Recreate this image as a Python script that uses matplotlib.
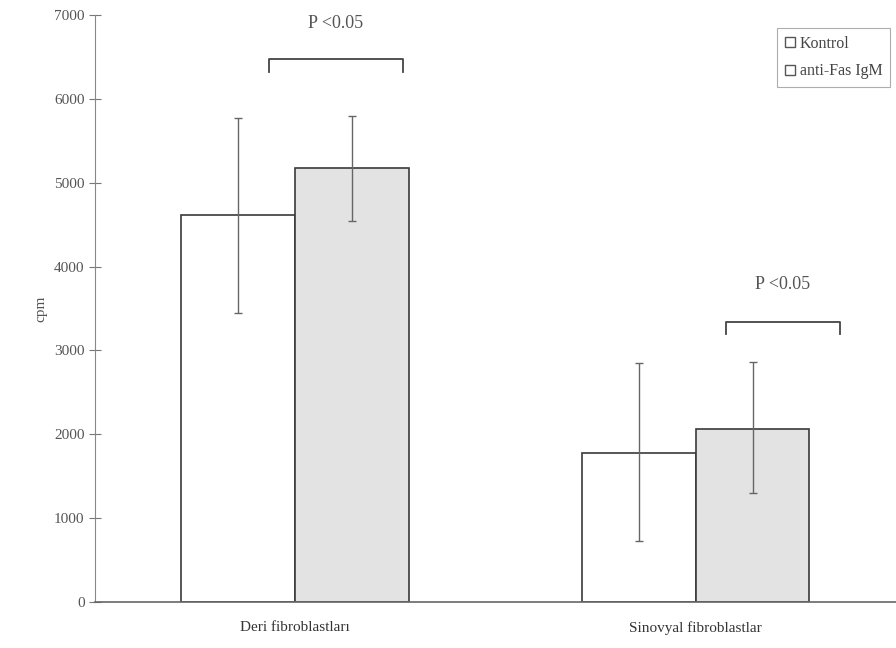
import matplotlib.pyplot as plt
import numpy as np
from matplotlib.lines import Line2D

plt.rcParams['font.family'] = ['Liberation Serif', 'DejaVu Serif']

categories = ["Deri fibroblastları", "Sinovyal fibroblastlar"]
kontrol = [4620, 1780]
kontrol_err_low = [3450, 730]
kontrol_err_high = [5770, 2850]
antifas = [5170, 2060]
antifas_err_low = [4540, 1300]
antifas_err_high = [5800, 2860]
p_text = ["P <0.05", "P <0.05"]
bracket_y = [6470, 3340]
text_y = [6900, 3780]

fig = plt.figure(figsize=(8.96, 6.48), dpi=100)
ax = fig.add_axes([0.106, 0.071, 0.894, 0.906])

x = np.arange(len(categories))
w = 0.284
edge = "#3a3a3a"
k_err = [np.array(kontrol) - np.array(kontrol_err_low),
         np.array(kontrol_err_high) - np.array(kontrol)]
a_err = [np.array(antifas) - np.array(antifas_err_low),
         np.array(antifas_err_high) - np.array(antifas)]

ax.bar(x - w / 2, kontrol, w, color="white", edgecolor=edge, linewidth=1.2,
       yerr=k_err, error_kw=dict(ecolor="#666666", elinewidth=1, capsize=3))
ax.bar(x + w / 2, antifas, w, color="#e3e3e3", edgecolor=edge, linewidth=1.2,
       yerr=a_err, error_kw=dict(ecolor="#666666", elinewidth=1, capsize=3))

# significance brackets
for i in range(len(categories)):
    if i == 0:
        x0, x1 = x[i] - 0.065, x[i] + 0.268
    else:
        x0, x1 = x[i] + 0.075, x[i] + 0.36
    yb = bracket_y[i]
    ax.plot([x0, x0, x1, x1], [yb - 150, yb, yb, yb - 150], color="#444444", lw=1.3)
    ax.text((x0 + x1) / 2, text_y[i], p_text[i], ha="center", va="center",
            fontsize=13, color="#555555")

ax.set_xlim(-0.5, 1.5)
ax.set_ylim(0, 7000)
ax.set_yticks(range(0, 7001, 1000))
ax.set_xticks(x)
ax.set_xticklabels(categories, fontsize=11, color="#333333")
ax.tick_params(axis="x", length=0, pad=14)
ax.tick_params(axis="y", direction="inout", length=8, width=0.8,
               colors="#777777", labelcolor="#555555", labelsize=11)
ax.set_ylabel("cpm", fontsize=11, color="#555555", labelpad=5)
for s in ["top", "right"]:
    ax.spines[s].set_visible(False)
ax.spines["left"].set_color("#888888")
ax.spines["bottom"].set_color("#666666")
ax.spines["bottom"].set_linewidth(1.2)

handles = [Line2D([], [], marker="s", ls="", markerfacecolor="white",
                  markeredgecolor="#555555", markersize=7),
           Line2D([], [], marker="s", ls="", markerfacecolor="white",
                  markeredgecolor="#555555", markersize=7)]
leg = ax.legend(handles, ["Kontrol", "anti-Fas IgM"], loc="upper right",
                bbox_to_anchor=(0.997, 0.983), fontsize=11.5, frameon=True,
                fancybox=False, handlelength=0.6, handletextpad=0.3,
                labelspacing=0.7, borderpad=0.5, borderaxespad=0.2)
leg.get_frame().set_edgecolor("#999999")
leg.get_frame().set_linewidth(0.8)
for t in leg.get_texts():
    t.set_color("#444444")

plt.savefig("out.png", dpi=100)
